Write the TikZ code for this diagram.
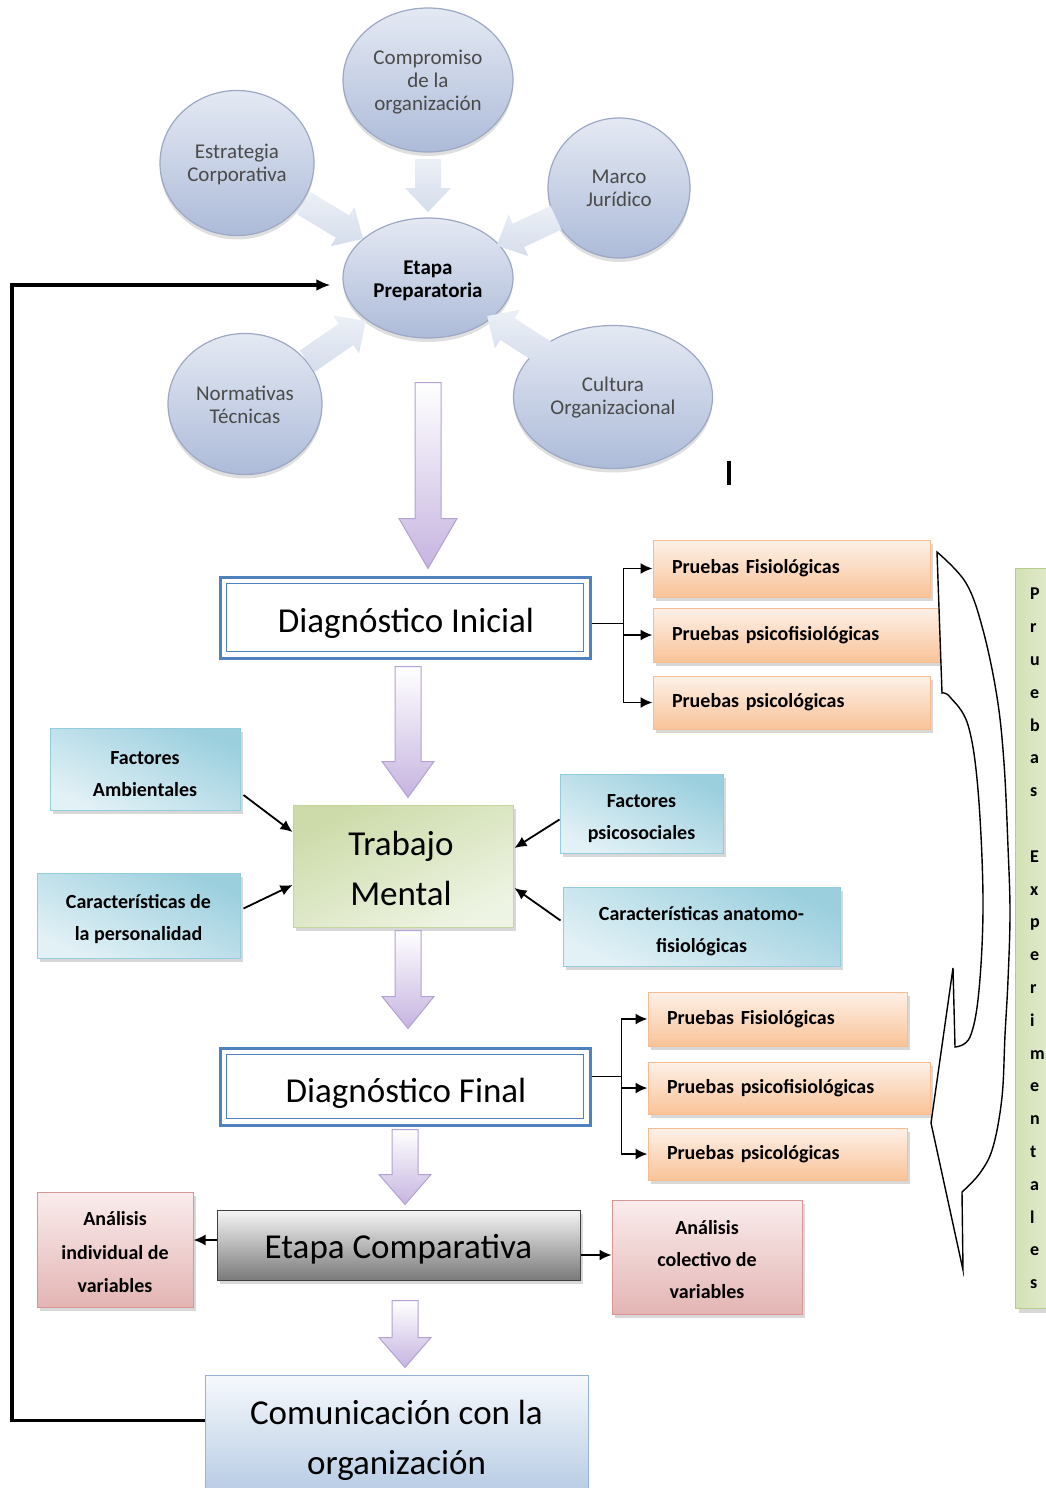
\documentclass[tikz,border=0pt]{standalone}
\usepackage{fontspec}
\setmainfont{Carlito}
\usetikzlibrary{shapes.geometric,arrows.meta,calc,shadows}

\definecolor{bubbletop}{HTML}{E4E9F3}
\definecolor{bubblebot}{HTML}{ADBBD9}
\definecolor{bubbleline}{HTML}{9CA8C4}
\definecolor{bubbletext}{HTML}{4A4A4A}
\definecolor{softtop}{HTML}{ECF0F6}
\definecolor{softbot}{HTML}{D5DDEC}
\definecolor{fatbot}{HTML}{C6B4E0}
\definecolor{fatline}{HTML}{B3A2D3}
\definecolor{diagblue}{HTML}{4F81BD}
\definecolor{tmtop}{HTML}{CCDBA9}
\definecolor{tmbot}{HTML}{EEF4E3}
\definecolor{tmline}{HTML}{C3D69B}
\definecolor{cyantop}{HTML}{9BCFDE}
\definecolor{cyanbot}{HTML}{E2F1F6}
\definecolor{cyanline}{HTML}{93CDDD}
\definecolor{pinktop}{HTML}{FAECEC}
\definecolor{pinkbot}{HTML}{E3B5B4}
\definecolor{pinkline}{HTML}{D99694}
\definecolor{orangetop}{HTML}{FDF1E8}
\definecolor{orangebot}{HTML}{F9C398}
\definecolor{orangeline}{HTML}{F8BC8E}
\definecolor{graytop}{HTML}{F5F5F5}
\definecolor{graybot}{HTML}{7A7A7A}
\definecolor{grayline}{HTML}{404040}
\definecolor{commtop}{HTML}{F6F9FC}
\definecolor{commbot}{HTML}{B9CDE5}
\definecolor{commline}{HTML}{95B3D7}
\definecolor{greenleft}{HTML}{D3E1B5}
\definecolor{greenright}{HTML}{EEF4E3}
\definecolor{greenline}{HTML}{B7CD8C}

% block arrow: style, tail point, tip point, shaft half width, head half width, head length
\newcommand\drawblockarrow[6]{%
  \coordinate (ba-a) at (#2);
  \coordinate (ba-b) at (#3);
  \coordinate (ba-h) at ($(ba-b)!#6!(ba-a)$);
  \path[#1] ($(ba-a)!#4!90:(ba-b)$) -- ($(ba-h)!#4!90:(ba-b)$)
    -- ($(ba-h)!#5!90:(ba-b)$) -- (ba-b) -- ($(ba-h)!#5!-90:(ba-b)$)
    -- ($(ba-h)!#4!-90:(ba-b)$) -- ($(ba-a)!#4!-90:(ba-b)$) -- cycle;}

\begin{document}
\begin{tikzpicture}[x=1pt,y=-1pt,
  boxshadow/.style={drop shadow={shadow xshift=3pt,shadow yshift=-4pt,opacity=0.22,fill=black!70}},
  bubble/.style={ellipse, inner sep=0pt, top color=bubbletop, bottom color=bubblebot,
    draw=bubbleline, line width=1.2pt, text=bubbletext, align=center,
    font=\fontsize{21}{23}\selectfont,
    drop shadow={shadow xshift=0pt,shadow yshift=-4pt,opacity=0.18,fill=black!70}},
  bubbletxt/.style={align=center, inner sep=0pt, text=bubbletext, font=\fontsize{21}{23}\selectfont},
  bigfont/.style={font=\fontsize{35}{50}\selectfont},
  bigtxt/.style={align=center, inner sep=0pt, bigfont},
  smalltxt/.style={align=center, inner sep=0pt, font=\bfseries\fontsize{20}{32}\selectfont},
  diagbox/.style={draw=diagblue, line width=3pt, fill=white, inner sep=0pt,
    minimum width=370pt},
  tmbox/.style={top color=tmtop, bottom color=tmbot, shading angle=25, draw=tmline,
    line width=1pt, minimum width=220pt, minimum height=122pt, boxshadow},
  cyanbox/.style={top color=cyantop, bottom color=cyanbot, shading angle=-25, draw=cyanline,
    line width=1pt, inner sep=0pt, boxshadow},
  pinkbox/.style={top color=pinktop, bottom color=pinkbot, draw=pinkline, line width=1pt,
    inner sep=0pt, boxshadow},
  orangebox/.style={top color=orangetop, bottom color=orangebot, draw=orangeline,
    line width=1pt, align=left, font=\bfseries\fontsize{20}{32}\selectfont,
    inner xsep=19pt, inner ysep=0pt, boxshadow},
  graybox/.style={top color=graytop, bottom color=graybot, draw=grayline, line width=1pt,
    minimum width=363pt, minimum height=70pt, boxshadow},
  commbox/.style={top color=commtop, bottom color=commbot, draw=commline, line width=1pt,
    minimum width=383pt, minimum height=113pt},
  greenbox/.style={left color=greenleft, right color=greenright, draw=greenline,
    line width=1.2pt, boxshadow},
  fat/.style={top color=white, bottom color=fatbot, draw=fatline, line width=1pt},
  soft/.style={top color=softtop, bottom color=softbot},
  conn/.style={draw=black, line width=1.8pt, -{Latex[length=12pt,width=11pt]}},
  feedback/.style={draw=black, line width=3.5pt, -{Latex[length=14pt,width=12pt]}},
]
\useasboundingbox (0,0) rectangle (1045,1488);

% ---------- preparatory stage and its influences ----------
\node[bubble, minimum width=170pt, minimum height=144pt] (cm) at (428,80) {};
\node[bubble, minimum width=154pt, minimum height=145pt] (es) at (237,163) {};
\node[bubble, minimum width=142pt, minimum height=140pt] (mj) at (619,188) {};
\node[bubble, minimum width=154pt, minimum height=141pt] (nt) at (245,404) {};
\node[bubble, minimum width=199pt, minimum height=143pt] (co) at (613,397) {};
\node[bubble, minimum width=170pt, minimum height=120pt] (ep) at (428,278) {};

\node[bubbletxt] (cm-t) at ($(cm.center)+(0,2)$) {Compromiso\\de la\\organización};
\node[bubbletxt] (es-t) at ($(es.center)+(0,1)$) {Estrategia\\Corporativa};
\node[bubbletxt] (mj-t) at ($(mj.center)+(0,0)$) {Marco\\Jurídico};
\node[bubbletxt] (nt-t) at ($(nt.center)+(0,1)$) {Normativas\\Técnicas};
\node[bubbletxt] (co-t) at ($(co.center)+(0,1)$) {Cultura\\Organizacional};
\node[bubbletxt, text=black, font=\bfseries\fontsize{21}{23}\selectfont] (ep-t)
  at ($(ep.center)+(0,3)$) {Etapa\\Preparatoria};

\drawblockarrow{soft}{$(cm.center)!0.40!(ep.center)$}{$(cm.center)!0.667!(ep.center)$}{13pt}{23pt}{24pt}
\drawblockarrow{soft}{$(es.center)!0.35!(ep.center)$}{$(es.center)!0.66!(ep.center)$}{13pt}{23pt}{24pt}
\drawblockarrow{soft}{$(mj.center)!0.33!(ep.center)$}{$(mj.center)!0.64!(ep.center)$}{13pt}{23pt}{24pt}
\drawblockarrow{soft}{$(nt.center)!0.34!(ep.center)$}{$(nt.center)!0.66!(ep.center)$}{13pt}{23pt}{24pt}
\drawblockarrow{soft}{$(co.center)!0.36!(ep.center)$}{$(co.center)!0.68!(ep.center)$}{13pt}{23pt}{24pt}

% stray text cursor mark
\draw[line width=4pt] (729,461) -- (729,485);

% ---------- main sequence ----------
\node[diagbox, minimum height=81pt] (di) at (405,617.5) {};
\draw[diagblue, line width=1.3pt] ($(di.north west)+(8,8)$) rectangle ($(di.south east)+(-8,-8)$);
\node[bigtxt] (di-t) at ($(di.center)+(1,6)$) {Diagnóstico Inicial};

\node[tmbox] (tm) at (403,866) {};
\node[bigtxt] (tm-t) at ($(tm.center)+(-2,2)$) {Trabajo\\Mental};

\node[diagbox, minimum height=77pt] (df) at (405,1086.5) {};
\draw[diagblue, line width=1.3pt] ($(df.north west)+(8,8)$) rectangle ($(df.south east)+(-8,-8)$);
\node[bigtxt] (df-t) at ($(df.center)+(1,7)$) {Diagnóstico Final};

\node[graybox] (ec) at (398.5,1245) {};
\node[bigtxt] (ec-t) at ($(ec.center)+(0,4)$) {Etapa Comparativa};

\node[commbox] (cc) at (396.5,1431.5) {};
\node[bigtxt] (cc-t) at ($(cc.center)+(0,9)$) {Comunicación con la\\organización};

\drawblockarrow{fat}{$(ep.south)+(0,44)$}{$(ep.south |- di.north)+(0,-7)$}{13pt}{29pt}{50pt}
\drawblockarrow{fat}{$(di.south)+(3,7)$}{$(di.south |- tm.north)+(3,-7)$}{13pt}{26pt}{36pt}
\drawblockarrow{fat}{$(tm.south)+(5,3)$}{$(tm.south |- df.north)+(5,-18)$}{13pt}{26pt}{32pt}
\drawblockarrow{fat}{$(df.south)+(0,3)$}{$(df.south |- ec.north)+(0,-5)$}{13pt}{26pt}{30pt}
\drawblockarrow{fat}{$(ec.south)+(6.5,20)$}{$(ec.south |- cc.north)+(6.5,-7)$}{13pt}{26pt}{30pt}

% ---------- factors acting on mental work ----------
\node[cyanbox, minimum width=190pt, minimum height=82pt] (fa) at (145,769) {};
\node[cyanbox, minimum width=203pt, minimum height=85pt] (cp) at (138.5,915.5) {};
\node[cyanbox, minimum width=163pt, minimum height=79pt] (fp) at (641.5,813.5) {};
\node[cyanbox, minimum width=277pt, minimum height=79pt] (ca) at (701.5,926.5) {};

\node[smalltxt] (fa-t) at ($(fa.center)+(0,5)$) {Factores\\Ambientales};
\node[smalltxt] (cp-t) at ($(cp.center)+(0,4)$) {Características de\\la personalidad};
\node[smalltxt] (fp-t) at ($(fp.center)+(0,5)$) {Factores\\psicosociales};
\node[smalltxt] (ca-t) at ($(ca.center)+(0,5)$) {Características anatomo-\\fisiológicas};

\draw[conn] ($(fa.east)+(3,26)$) -- ($(tm.west)+(0,-34)$);
\draw[conn] ($(cp.east)+(3,-7)$) -- ($(tm.west)+(0,19)$);
\draw[conn] ($(fp.west)+(0,6)$) -- ($(tm.east)+(1,-18)$);
\draw[conn] ($(ca.west)+(-2,-6)$) -- ($(tm.east)+(1,22)$);

% ---------- tests of each diagnosis ----------
\node[orangebox, minimum width=277pt, minimum height=57pt, text width=239pt] (p1) at (791.5,568.5) {Pruebas Fisiológicas};
\node[orangebox, minimum width=287pt, minimum height=54pt, text width=249pt] (p2) at (796.5,635) {Pruebas psicofisiológicas};
\node[orangebox, minimum width=277pt, minimum height=53pt, text width=239pt] (p3) at (791.5,702.5) {Pruebas psicológicas};

\node[orangebox, minimum width=259pt, minimum height=54pt, text width=221pt] (q1) at (777.5,1019) {Pruebas Fisiológicas};
\node[orangebox, minimum width=282pt, minimum height=52pt, text width=244pt] (q2) at (789,1088) {Pruebas psicofisiológicas};
\node[orangebox, minimum width=259pt, minimum height=52pt, text width=221pt] (q3) at (777.5,1154) {Pruebas psicológicas};

\coordinate (j1s) at ($(di.east)+(0,6)$);
\coordinate (j1) at ($(j1s)+(32,0)$);
\draw[line width=1.8pt] (j1s) -- (j1);
\draw[conn] (j1) |- (p1.west);
\draw[conn] (j1) |- (p2.west);
\draw[conn] (j1) |- (p3.west);

\coordinate (j2s) at ($(df.east)+(0,-10)$);
\coordinate (j2) at ($(j2s)+(30,0)$);
\draw[line width=1.8pt] (j2s) -- (j2);
\draw[conn] (j2) |- (q1.west);
\draw[conn] (j2) |- (q2.west);
\draw[conn] (j2) |- (q3.west);

% ---------- comparison of variables ----------
\node[pinkbox, minimum width=156pt, minimum height=115pt] (ai) at (115,1249.5) {};
\node[pinkbox, minimum width=190pt, minimum height=114pt] (ac) at (707,1257) {};
\node[smalltxt, font=\bfseries\fontsize{20}{33.5}\selectfont] (ai-t) at ($(ai.center)+(0,3)$) {Análisis\\individual de\\variables};
\node[smalltxt] (ac-t) at ($(ac.center)+(0,3)$) {Análisis\\colectivo de\\variables};

\coordinate (ecl) at ($(ec.west)+(0,-5)$);
\coordinate (ecr) at ($(ec.east)+(0,10)$);
\draw[conn] (ecl) -- (ecl -| ai.east);
\draw[conn] (ecr) -- (ecr -| ac.west);

% ---------- experimental tests ----------
\draw[line width=1.4pt, fill=white]
  plot[smooth, tension=0.6] coordinates {(937,552) (966,583) (983,630) (997,697) (1004,763)
    (1008,847) (1010,913) (1008,980) (1005,1035) (1002,1097) (993,1147) (980,1173) (962,1192)}
  -- (963,1270) -- (931,1123) -- (953,968) -- (955,1047)
  -- plot[smooth, tension=0.6] coordinates {(955,1047) (970,1037) (979,990) (983,900)
    (978,790) (968,725) (950,697) (942,693)}
  -- cycle;

\node[greenbox, anchor=north west, minimum width=70pt, minimum height=740pt] (gb) at (1015,568) {};
\node[anchor=north west, align=left, inner sep=0pt, font=\bfseries\fontsize{18}{32.8}\selectfont]
  (gb-t) at (1030,588) {P\\r\\u\\e\\b\\a\\s\\[32.8pt]E\\x\\p\\e\\r\\i\\m\\e\\n\\t\\a\\l\\e\\s};

% ---------- feedback to the preparatory stage ----------
\coordinate (lx) at (12,0);
\coordinate (fbstart) at ($(cc.west)+(0,-11)$);
\coordinate (fbend) at ($(ep.west)+(-12,7)$);
\draw[feedback] (fbstart) -- (fbstart -| lx) -- (lx |- fbend) -- (fbend);

\end{tikzpicture}
\end{document}
